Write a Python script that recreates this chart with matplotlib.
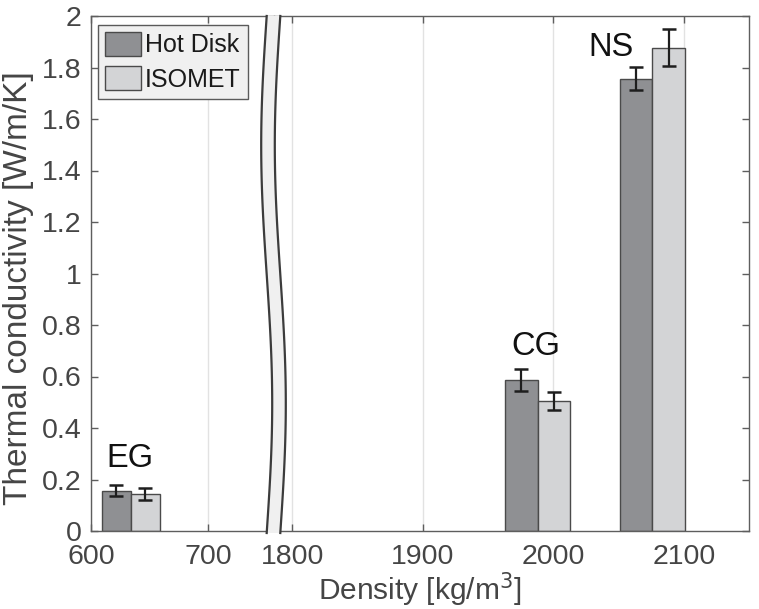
import numpy as np
import matplotlib
matplotlib.use("Agg")
import matplotlib.pyplot as plt
from matplotlib.patches import Polygon, Patch
from matplotlib.lines import Line2D

plt.rcParams['font.family'] = ['Liberation Sans', 'DejaVu Sans']

# data
materials = ['EG', 'CG', 'NS']
density = [634, 1988, 2076]           # kg/m3
hot_disk = [0.157, 0.586, 1.757]      # W/m/K
hot_disk_err = [0.023, 0.043, 0.044]
isomet = [0.145, 0.504, 1.876]
isomet_err = [0.023, 0.035, 0.072]
series_names = ['Hot Disk', 'ISOMET']
yticks = [0, 0.2, 0.4, 0.6, 0.8, 1, 1.2, 1.4, 1.6, 1.8, 2]

W, H = 759, 609
bar_w = 25
c_hot = '#8f9093'
c_iso = '#d3d4d6'
c_edge = '#4a4a4a'
c_text = '#454545'
c_spine = '#5e5e5e'

fig = plt.figure(figsize=(W / 100, H / 100), dpi=100)

def px_box(x0, x1, y0, y1):
    # pixel box (top-left origin) -> figure fraction rect
    return [x0 / W, 1 - y1 / H, (x1 - x0) / W, (y1 - y0) / H]

axL = fig.add_axes(px_box(91, 274, 16, 531))
axR = fig.add_axes(px_box(274, 749, 16, 531), sharey=axL)

for ax in (axL, axR):
    x = np.array(density, dtype=float)
    ax.bar(x - bar_w / 2, hot_disk, bar_w, color=c_hot, edgecolor=c_edge, lw=1.0, zorder=2)
    ax.bar(x + bar_w / 2, isomet, bar_w, color=c_iso, edgecolor=c_edge, lw=1.0, zorder=2)
    ax.errorbar(x - bar_w / 2, hot_disk, yerr=hot_disk_err, fmt='none', ecolor='#1e1e1e',
                elinewidth=1.6, capsize=4.8, capthick=1.8, zorder=3)
    ax.errorbar(x + bar_w / 2, isomet, yerr=isomet_err, fmt='none', ecolor='#1e1e1e',
                elinewidth=1.6, capsize=4.8, capthick=1.8, zorder=3)
    ax.grid(axis='x', color='#e2e2e2', lw=1.0, zorder=0)
    ax.set_axisbelow(True)
    for s in ax.spines.values():
        s.set_color(c_spine)
        s.set_linewidth(1.0)
    ax.tick_params(direction='in', length=5, width=1, color=c_spine, labelcolor=c_text,
                   labelsize=20.5, top=True)
    ax.tick_params(axis='x', pad=9.5)
    ax.tick_params(axis='y', pad=7)

axL.set_xlim(600, 756.4)
axR.set_xlim(1785.9, 2150)
axL.set_ylim(0, 2)
axL.set_xticks([600, 700])
axR.set_xticks([1800, 1900, 2000, 2100])
axL.set_yticks(yticks)
axL.set_yticklabels(['%g' % v for v in yticks])
axL.spines['right'].set_visible(False)
axR.spines['left'].set_visible(False)
axL.tick_params(axis='y', left=True, right=False)
axR.tick_params(axis='y', left=False, right=True, labelleft=False, labelright=False)

# material labels
axL.text(633, 0.28, materials[0], ha='center', va='center', fontsize=23.5, color='#111111')
axR.text(1987, 0.718, materials[1], ha='center', va='center', fontsize=23.5, color='#111111')
axR.text(2044, 1.876, materials[2], ha='center', va='center', fontsize=23.5, color='#111111')

handles = [Patch(facecolor=c_hot, edgecolor=c_edge), Patch(facecolor=c_iso, edgecolor=c_edge)]
leg = axL.legend(handles, series_names, loc='upper left', bbox_to_anchor=(0.038, 0.983),
                 borderaxespad=0, fontsize=18, handlelength=1.45, handleheight=1.1,
                 handletextpad=0.15, labelspacing=0.35, borderpad=0.28, fancybox=False,
                 framealpha=1, facecolor='#f0f0f0', edgecolor='#5a5a5a')
leg.get_frame().set_linewidth(1.0)
for t in leg.get_texts():
    t.set_color('#1a1a1a')

# axis break band (wavy strip)
yy = np.linspace(16, 533, 120)
tt = (yy - 16) / (533 - 16)
cx = 273.5 - 5.5 * np.sin(2 * np.pi * tt)
hw = 6.8
left = np.column_stack([(cx - hw) / W, 1 - yy / H])
right = np.column_stack([(cx + hw) / W, 1 - yy / H])
band = Polygon(np.vstack([left, right[::-1]]), closed=True, transform=fig.transFigure,
               facecolor='#f0f0f0', edgecolor='none', zorder=5)
fig.add_artist(band)
for edge in (left, right):
    fig.add_artist(Line2D(edge[:, 0], edge[:, 1], transform=fig.transFigure,
                          color='#3c3c3c', lw=1.6, zorder=6))

fig.text(420 / W, 1 - 600 / H, 'Density [kg/m$^3$]', ha='center', va='baseline',
         fontsize=21.5, color=c_text)
fig.text(19 / W, 1 - 288 / H, 'Thermal conductivity [W/m/K]', ha='center', va='center',
         rotation=90, fontsize=24, color=c_text)

fig.savefig('out.png', dpi=100)
